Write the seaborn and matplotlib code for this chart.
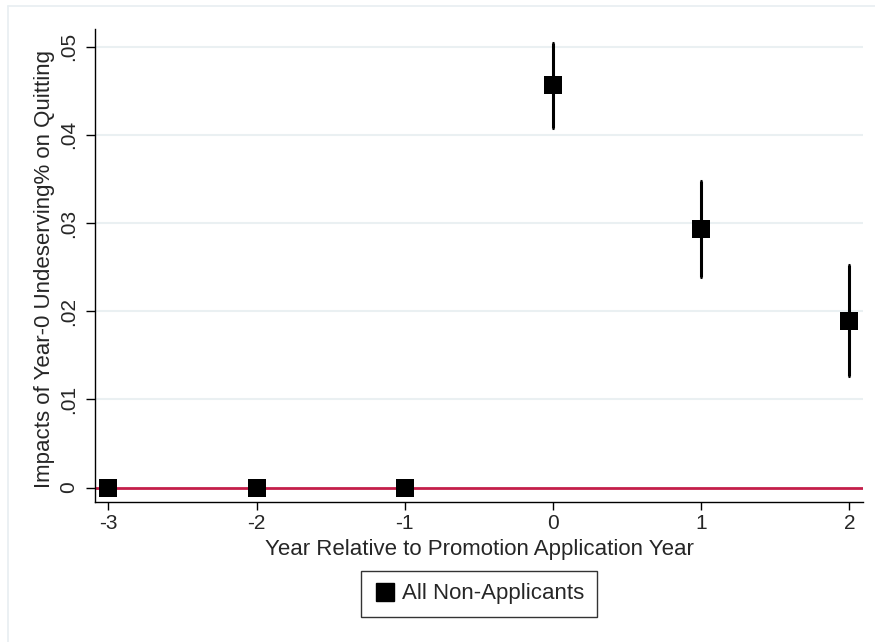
import numpy as np
import pandas as pd
import matplotlib
matplotlib.use("Agg")
import matplotlib.pyplot as plt
import seaborn as sns
from matplotlib.lines import Line2D

# event-study coefficients
years = [-3, -2, -1, 0, 1, 2]
coef = [0.0, 0.0, 0.0, 0.0456, 0.0293, 0.0189]
ci_low = [np.nan, np.nan, np.nan, 0.0408, 0.0239, 0.0127]
ci_high = [np.nan, np.nan, np.nan, 0.0504, 0.0348, 0.0252]

y_ticks = [0, 0.01, 0.02, 0.03, 0.04, 0.05]
y_tick_labels = ["0", ".01", ".02", ".03", ".04", ".05"]

df = pd.DataFrame({"year": years, "coef": coef, "lo": ci_low, "hi": ci_high})

sns.set_theme(style="white")
plt.rcParams["font.family"] = ["Liberation Sans", "DejaVu Sans"]

W, H = 875, 642
fig = plt.figure(figsize=(W / 100, H / 100), dpi=100)
fig.patch.set_facecolor("white")

# axes box in pixels: left 95, right 863, top 29, bottom 501.7
ax = fig.add_axes([95 / W, 1 - 501.7 / H, (863 - 95) / W, (501.7 - 29) / H])
ax.set_facecolor("white")

ax.set_xlim(-3.09, 2.092)
ax.set_ylim(-0.0016, 0.052)

# grid lines (except at zero, which gets the red reference line)
for yt in y_ticks[1:]:
    ax.axhline(yt, color="#eaf0f2", lw=1.5, zorder=0)
ax.axhline(0, color="#c41e4a", lw=2.0, zorder=1)

# confidence intervals
ci = df.dropna()
ax.vlines(ci["year"], ci["lo"], ci["hi"], color="black", lw=2.2, zorder=2)
ax.hlines(ci["lo"], ci["year"] - 0.006, ci["year"] + 0.006, color="black", lw=2.2, zorder=2)
ax.hlines(ci["hi"], ci["year"] - 0.006, ci["year"] + 0.006, color="black", lw=2.2, zorder=2)

sns.scatterplot(data=df, x="year", y="coef", marker="s", s=150, color="black",
                edgecolor="black", linewidth=0, ax=ax, zorder=3, legend=False)

ax.set_xticks(years)
ax.set_xticklabels([str(v) for v in years])
ax.set_yticks(y_ticks)
ax.set_yticklabels(y_tick_labels, rotation=90, va="center")

ax.tick_params(axis="x", length=6, width=1, color="black", labelsize=15, pad=3, direction="out")
ax.tick_params(axis="y", length=6.5, width=1, color="black", labelsize=15, pad=6, direction="out")
ax.tick_params(bottom=True, left=True)

for side in ["top", "right"]:
    ax.spines[side].set_visible(False)
for side in ["left", "bottom"]:
    ax.spines[side].set_color("black")
    ax.spines[side].set_linewidth(1.0)

ax.set_xlabel("Year Relative to Promotion Application Year", fontsize=16, va="center")
ax.xaxis.set_label_coords(0.5, -(549 - 501.7) / (501.7 - 29))
ax.set_ylabel("Impacts of Year-0 Undeserving% on Quitting", fontsize=16, va="center")
ax.yaxis.set_label_coords((45 - 95) / (863 - 95), (501.7 - 269.5) / (501.7 - 29))

handle = Line2D([], [], marker="s", color="black", linestyle="none", markersize=12.5)
leg = fig.legend([handle], ["All Non-Applicants"], loc="center",
                 bbox_to_anchor=(479 / W, 1 - 594 / H), fontsize=16, frameon=True,
                 fancybox=False, edgecolor="black", borderpad=0.55,
                 handletextpad=0.3, handlelength=1.0, borderaxespad=0)
leg.get_frame().set_linewidth(1.0)

# faint outer frame of the graph region
fig.add_artist(Line2D([8 / W, 1.0], [1 - 6 / H, 1 - 6 / H], color="#e8eef1", lw=1.2))
fig.add_artist(Line2D([8 / W, 8 / W], [1 - 6 / H, 0.0], color="#e8eef1", lw=1.2))

fig.savefig("out.png", dpi=100)
